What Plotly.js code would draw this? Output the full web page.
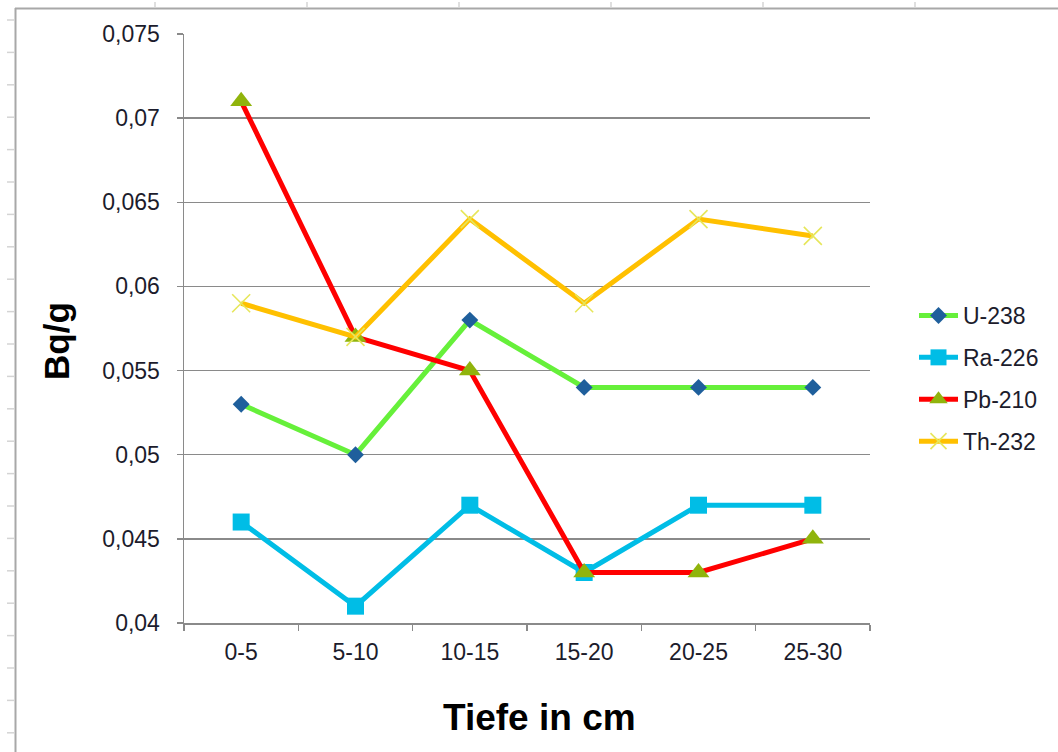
<!DOCTYPE html>
<html>
<head>
<meta charset="utf-8">
<script src="https://cdn.plot.ly/plotly-3.0.1.min.js"></script>
<style>
  html, body { margin: 0; padding: 0; background: #ffffff; }
  #chart { width: 1058px; height: 752px; }
</style>
</head>
<body>
<div id="chart"></div>
<script>
// Tiefenprofil der Aktivität (Bq/g) je Schicht
const depths = ["0-5", "5-10", "10-15", "15-20", "20-25", "25-30"];
const u238  = [0.053, 0.050, 0.058, 0.054, 0.054, 0.054];
const ra226 = [0.046, 0.041, 0.047, 0.043, 0.047, 0.047];
const pb210 = [0.071, 0.057, 0.055, 0.043, 0.043, 0.045];
const th232 = [0.059, 0.057, 0.064, 0.059, 0.064, 0.063];

const W = 1058, H = 752;
const M = { l: 184, r: 188, t: 34, b: 129 };
const PW = W - M.l - M.r, PH = H - M.t - M.b;
// pixel position -> paper coordinates
const px = v => (v - M.l) / PW;
const py = v => 1 - (v - M.t) / PH;

const FONT = "Liberation Sans, Arial, sans-serif";

function series(name, y, lineColor, symbol, mColor, mSize, mLine) {
  return {
    type: "scatter", mode: "lines+markers", name: name,
    x: depths, y: y, legendgroup: name,
    line: { color: lineColor, width: 5 },
    marker: {
      symbol: symbol, size: mSize, color: mColor,
      line: mLine || { width: 0 }
    },
    cliponaxis: false
  };
}

const traces = [
  series("U-238", u238, "#66f03a", "diamond", "#1f5f9c", 13),
  series("Ra-226", ra226, "#00bde6", "square", "#00bde6", 17),
  series("Pb-210", pb210, "#ff0000", "triangle-up", "#90b40c", 19),
  series("Th-232", th232, "#ffc000", "x-thin", "#e6e65a", 18, { color: "#e6e65a", width: 1.6 })
];

// worksheet frame around the chart object
const shapes = [];
const frameCol = "#a8a8a8", cellCol = "#d4d4d4";
shapes.push({ type: "line", xref: "paper", yref: "paper",
  x0: px(15), x1: px(W + 2), y0: py(8.5), y1: py(8.5),
  line: { color: frameCol, width: 2 } });
shapes.push({ type: "line", xref: "paper", yref: "paper",
  x0: px(15.5), x1: px(15.5), y0: py(8), y1: py(H + 2),
  line: { color: frameCol, width: 2 } });
for (let y = 20; y < H; y += 32.4) {
  shapes.push({ type: "line", xref: "paper", yref: "paper",
    x0: px(7), x1: px(14), y0: py(y), y1: py(y),
    line: { color: cellCol, width: 1.5 } });
}
for (let x = 155; x < W; x += 152) {
  shapes.push({ type: "line", xref: "paper", yref: "paper",
    x0: px(x), x1: px(x), y0: py(2), y1: py(7.5),
    line: { color: cellCol, width: 1.5 } });
}

const annotations = [
  { text: "<b>Tiefe in cm</b>", xref: "paper", yref: "paper",
    x: px(539), y: py(717), xanchor: "center", yanchor: "middle",
    showarrow: false, font: { family: FONT, size: 37, color: "#000000" } },
  { text: "<b>Bq/g</b>", xref: "paper", yref: "paper",
    x: px(56), y: py(341), xanchor: "center", yanchor: "middle",
    textangle: -90, showarrow: false,
    font: { family: FONT, size: 35, color: "#000000" } }
];

const layout = {
  width: W, height: H,
  margin: M,
  paper_bgcolor: "#ffffff", plot_bgcolor: "#ffffff",
  separators: ",.",
  font: { family: FONT, size: 23, color: "#1c1c2c" },
  showlegend: true,
  legend: {
    x: px(914), y: py(294), xanchor: "left", yanchor: "top",
    traceorder: "grouped", tracegroupgap: 9, itemwidth: 39,
    font: { family: FONT, size: 23, color: "#1c1c2c" },
    bgcolor: "rgba(0,0,0,0)"
  },
  xaxis: {
    type: "category", range: [-0.5, 5.5],
    tickson: "boundaries", ticks: "outside", ticklen: 6,
    tickcolor: "#8a8a8a", tickwidth: 1.5,
    showline: true, linecolor: "#8a8a8a", linewidth: 1.5,
    showgrid: false, zeroline: false,
    ticklabelstandoff: 8,
    tickfont: { family: FONT, size: 23, color: "#1c1c2c" }
  },
  yaxis: {
    range: [0.04, 0.075], tick0: 0.04, dtick: 0.005,
    ticks: "outside", ticklen: 6, tickcolor: "#8a8a8a", tickwidth: 1.5,
    showline: true, linecolor: "#8a8a8a", linewidth: 1.5,
    showgrid: true, gridcolor: "#8a8a8a", gridwidth: 1.5,
    zeroline: false,
    ticklabelstandoff: 12,
    tickfont: { family: FONT, size: 23, color: "#1c1c2c" }
  },
  shapes: shapes,
  annotations: annotations
};

Plotly.newPlot("chart", traces, layout, { displayModeBar: false, staticPlot: true });
</script>
</body>
</html>
